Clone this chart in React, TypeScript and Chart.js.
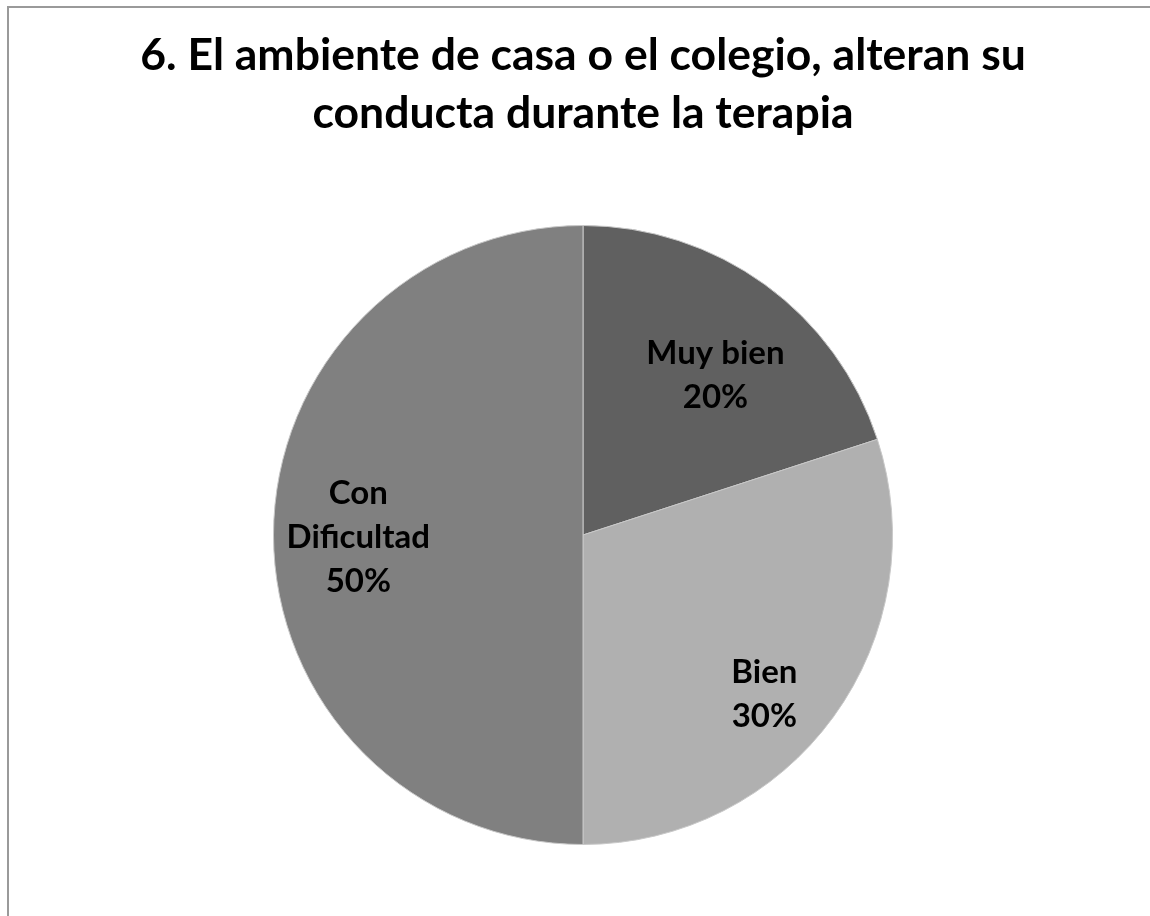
import React, { useEffect, useRef } from "react";
import { Chart, registerables } from "chart.js";

Chart.register(...registerables);

const categories: string[] = ["Muy bien", "Bien", "Con Dificultad"];
const values: number[] = [20, 30, 50];
const percentLabels: string[] = ["20%", "30%", "50%"];
const labelLines: string[][] = [["Muy bien"], ["Bien"], ["Con", "Dificultad"]];
const sliceColors: string[] = ["#606060", "#b0b0b0", "#808080"];
const titleLines: string[] = [
  "6. El ambiente de casa o el colegio, alteran su",
  "conducta durante la terapia",
];

const FONT = "Lato, 'Open Sans', sans-serif";

const sliceLabelPlugin = {
  id: "sliceLabels",
  afterDatasetsDraw(chart: any, _args: any, opts: any) {
    const ctx = chart.ctx;
    const meta = chart.getDatasetMeta(0);
    const place = opts.placement || [];
    ctx.save();
    ctx.fillStyle = "#000";
    ctx.font = `bold ${opts.size}px ${FONT}`;
    ctx.textAlign = "center";
    ctx.textBaseline = "middle";
    meta.data.forEach((arc: any, i: number) => {
      const p = arc.getProps(["x", "y", "startAngle", "endAngle", "outerRadius"], true);
      const pl = place[i] || { shift: 0, r: 0.7 };
      const mid = (p.startAngle + p.endAngle) / 2 + (pl.shift * Math.PI) / 180;
      const cx = p.x + Math.cos(mid) * p.outerRadius * pl.r;
      const cy = p.y + Math.sin(mid) * p.outerRadius * pl.r;
      const lines = [...labelLines[i], percentLabels[i]];
      const lh = opts.lineHeight;
      const top = cy - ((lines.length - 1) * lh) / 2;
      lines.forEach((t, k) => ctx.fillText(t, cx, top + k * lh));
    });
    ctx.restore();
  },
};

export default function App() {
  const ref = useRef<HTMLCanvasElement | null>(null);
  useEffect(() => {
    if (!ref.current) return;
    const chart = new Chart(ref.current, {
      type: "pie",
      data: {
        labels: categories,
        datasets: [
          {
            data: values,
            backgroundColor: sliceColors,
            borderColor: "#c8c8c8",
            borderWidth: 1,
          },
        ],
      },
      options: {
        animation: false,
        responsive: false,
        maintainAspectRatio: false,
        layout: { padding: { top: 0, left: 16, right: 0, bottom: 71 } },
        plugins: {
          legend: { display: false },
          tooltip: { enabled: false },
          title: {
            display: true,
            text: titleLines,
            color: "#000",
            font: { family: FONT, size: 44.5, weight: "bold", lineHeight: 58 / 44.5 },
            padding: { top: 27, bottom: 82 },
          },
          sliceLabels: {
            size: 33,
            lineHeight: 44,
            placement: [
              { shift: 3.7, r: 0.67 },
              { shift: 5.3, r: 0.78 },
              { shift: -0.5, r: 0.726 },
            ],
          },
        } as any,
      },
      plugins: [sliceLabelPlugin],
    });
    return () => chart.destroy();
  }, []);

  return (
    <div style={{ position: "absolute", left: 0, top: 0, width: 1150, height: 916, overflow: "hidden", background: "#fff" }}>
      <div
        style={{
          position: "absolute",
          left: 7,
          top: 6,
          width: 1150,
          height: 916,
          borderTop: "2px solid #9a9a9a",
          borderLeft: "2px solid #9a9a9a",
        }}
      />
      <canvas ref={ref} width={1150} height={916} style={{ position: "absolute", left: 0, top: 0, width: 1150, height: 916 }} />
    </div>
  );
}
